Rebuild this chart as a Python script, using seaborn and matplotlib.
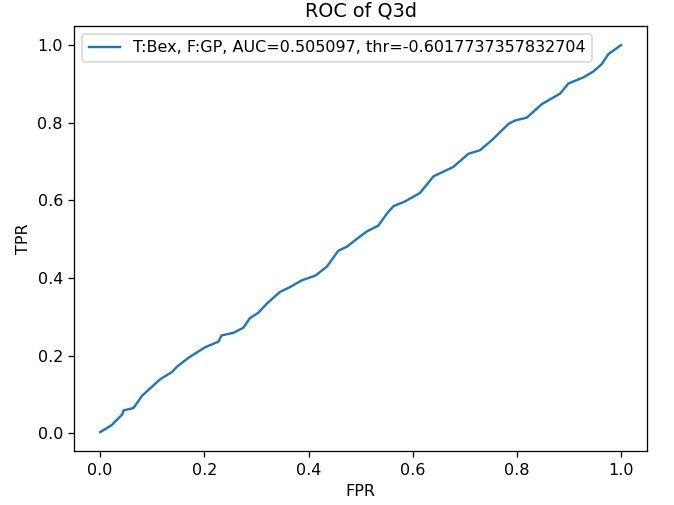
import matplotlib
matplotlib.use("Agg")
import matplotlib.pyplot as plt
import seaborn as sns
import pandas as pd

fpr = [0.0, 0.022, 0.042, 0.045, 0.064, 0.080, 0.115, 0.138, 0.147, 0.170, 0.202,
       0.227, 0.233, 0.256, 0.275, 0.287, 0.304, 0.320, 0.345, 0.365, 0.387, 0.413,
       0.435, 0.457, 0.474, 0.493, 0.512, 0.534, 0.550, 0.563, 0.585, 0.614, 0.640,
       0.678, 0.707, 0.729, 0.752, 0.784, 0.797, 0.819, 0.848, 0.883, 0.899, 0.928,
       0.947, 0.963, 0.976, 1.0]
tpr = [0.003, 0.021, 0.048, 0.059, 0.065, 0.096, 0.139, 0.158, 0.171, 0.195, 0.222,
       0.236, 0.252, 0.259, 0.272, 0.296, 0.311, 0.334, 0.364, 0.377, 0.394, 0.406,
       0.429, 0.470, 0.481, 0.501, 0.520, 0.535, 0.565, 0.585, 0.597, 0.619, 0.662,
       0.686, 0.720, 0.729, 0.755, 0.797, 0.806, 0.813, 0.848, 0.875, 0.901, 0.917,
       0.932, 0.951, 0.977, 1.0]
label = "T:Bex, F:GP, AUC=0.505097, thr=-0.6017737357832704"

df = pd.DataFrame({"FPR": fpr, "TPR": tpr})

dpi = 115
fig, ax = plt.subplots(figsize=(674 / dpi, 505 / dpi), dpi=dpi)
fig.subplots_adjust(left=0.110, right=0.960, top=0.949, bottom=0.106)
sns.lineplot(data=df, x="FPR", y="TPR", sort=False, estimator=None,
             color="#1f77b4", label=label, ax=ax)
ax.set_title("ROC of Q3d")
ax.set_xlabel("FPR")
ax.set_ylabel("TPR")
ax.legend(loc="upper left")
fig.savefig("out.png", dpi=dpi)
